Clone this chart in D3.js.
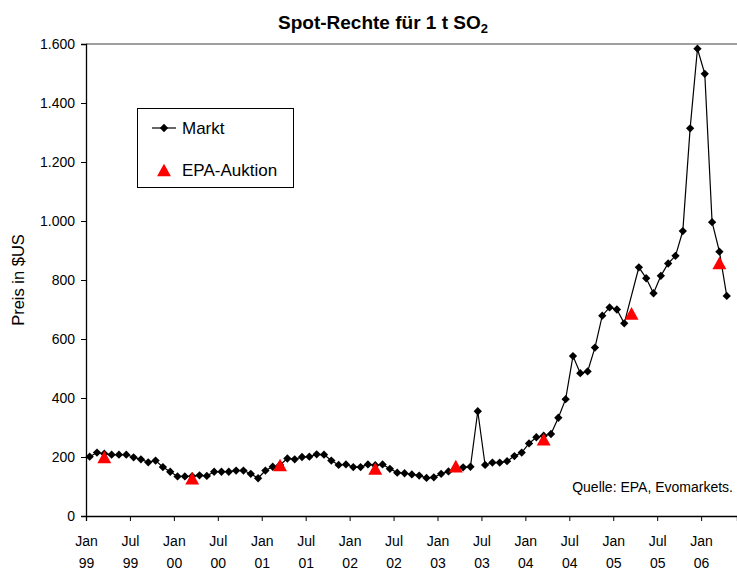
<!DOCTYPE html>
<html>
<head>
<meta charset="utf-8">
<script src="https://cdn.jsdelivr.net/npm/d3@7/dist/d3.min.js"></script>
<style>
  body { margin: 0; background: #fff; }
  svg { font-family: "Liberation Sans", Arial, sans-serif; }
</style>
</head>
<body>
<svg id="chart" width="737" height="571"></svg>
<script>
// Marktpreise, monatlich ab Jan 1999 (null = kein Wert)
var markt = [
  201, 215, 211, 208, 208, 208, 199, 192, 182, 188, 166, 150,   // 1999
  134, 134, 135, 138, 136, 150, 150, 150, 154, 154, 143, 128,   // 2000
  154, 167, 173, 195, 192, 200, 201, 209, 208, 188, 173, 175,   // 2001
  166, 166, 175, 172, 175, 160, 147, 145, 141, 137, 129, 131,   // 2002
  143, 151, 162, 165, 167, 355, 173, 181, 181, 186, 203, 215,   // 2003
  246, 267, 272, 278, 333, 396, 542, 484, 490, 571, 679, 707,   // 2004
  700, 653, null, 843, 806, 755, 814, 856, 882, 966, 1314, 1584, // 2005
  1499, 996, 896, 746                                           // 2006
];
// EPA-Auktionen: Monatsindex (0 = Jan 99) und Preis
var auktionMonat = [2, 14, 26, 39, 50, 62, 74, 86];
var auktionPreis = [200, 128, 173, 161, 169, 260, 687, 858];

var tickMonate = [0, 6, 12, 18, 24, 30, 36, 42, 48, 54, 60, 66, 72, 78, 84];
var tickLabels = [
  ["Jan", "99"], ["Jul", "99"], ["Jan", "00"], ["Jul", "00"], ["Jan", "01"],
  ["Jul", "01"], ["Jan", "02"], ["Jul", "02"], ["Jan", "03"], ["Jul", "03"],
  ["Jan", "04"], ["Jul", "04"], ["Jan", "05"], ["Jul", "05"], ["Jan", "06"]
];
var yTicks = [0, 200, 400, 600, 800, 1000, 1200, 1400, 1600];

var svg = d3.select('#chart');
// Plotbereich (nicht "top" nennen, window.top ist schreibgeschützt)
var plot = {left: 86, right: 737, top: 44, bottom: 516};

var x = d3.scaleLinear().domain([0, 88.9]).range([plot.left, plot.right]);
var y = d3.scaleLinear().domain([0, 1600]).range([plot.bottom, plot.top]);

var fmt = d3.formatLocale({decimal: ',', thousands: '.', grouping: [3], currency: ['', ' $']}).format(',d');

// Titel
var title = svg.append('text')
  .attr('x', 383).attr('y', 29)
  .attr('text-anchor', 'middle')
  .attr('font-size', 19).attr('font-weight', 'bold');
title.append('tspan').text('Spot-Rechte für 1 t SO');
title.append('tspan').attr('font-size', 13).attr('dy', 4).text('2');

// obere Rahmenlinie
svg.append('line')
  .attr('x1', plot.left).attr('x2', plot.right)
  .attr('y1', plot.top).attr('y2', plot.top)
  .attr('stroke', '#808080').attr('stroke-width', 1.5);

// Y-Achse
var yAxis = svg.append('g')
  .attr('transform', 'translate(' + plot.left + ',0)')
  .call(d3.axisLeft(y).tickValues(yTicks).tickSize(5).tickPadding(6).tickFormat(fmt));
yAxis.select('.domain').attr('stroke', '#000').attr('stroke-width', 1.3);
yAxis.selectAll('.tick line').attr('stroke', '#000');
yAxis.selectAll('.tick text').attr('font-size', 14).attr('fill', '#000')
  .attr('font-family', '"Liberation Sans", Arial, sans-serif');

// X-Achse
var xAxis = svg.append('g')
  .attr('transform', 'translate(0,' + plot.bottom + ')')
  .call(d3.axisBottom(x).tickValues(tickMonate).tickSize(5).tickFormat(''));
xAxis.select('.domain').attr('stroke', '#000').attr('stroke-width', 1.3);
xAxis.selectAll('.tick line').attr('stroke', '#000');
xAxis.selectAll('.tick').each(function(d, i) {
  var t = d3.select(this).append('text')
    .attr('text-anchor', 'middle')
    .attr('font-size', 14).attr('fill', '#000')
    .attr('font-family', '"Liberation Sans", Arial, sans-serif');
  t.append('tspan').attr('x', 0).attr('y', 30).text(tickLabels[i][0]);
  t.append('tspan').attr('x', 0).attr('y', 52).text(tickLabels[i][1]);
});

// Y-Achsentitel
svg.append('text')
  .attr('transform', 'translate(24,' + ((plot.top + plot.bottom) / 2) + ') rotate(-90)')
  .attr('text-anchor', 'middle')
  .attr('font-size', 16.5)
  .text('Preis in $US');

// Marktdaten
var marktPunkte = markt.map(function(v, i) { return {i: i, v: v}; })
  .filter(function(d) { return d.v !== null; });

var line = d3.line()
  .x(function(d) { return x(d.i + 0.5); })
  .y(function(d) { return y(d.v); });

svg.append('path')
  .datum(marktPunkte)
  .attr('d', line)
  .attr('fill', 'none')
  .attr('stroke', '#000')
  .attr('stroke-width', 1.2);

var diamond = d3.symbol().type(d3.symbolDiamond2).size(44);
// Dreieck wie in Excel: Bounding-Box zentriert
var excelTriangle = {
  draw: function(ctx, size) {
    var r = Math.sqrt(size) / 2;
    ctx.moveTo(0, -r);
    ctx.lineTo(r * 1.1, r);
    ctx.lineTo(-r * 1.1, r);
    ctx.closePath();
  }
};
var triangle = d3.symbol().type(excelTriangle).size(160);

svg.selectAll('.markt')
  .data(marktPunkte)
  .enter().append('path')
  .attr('class', 'markt')
  .attr('d', diamond)
  .attr('transform', function(d) { return 'translate(' + x(d.i + 0.5) + ',' + y(d.v) + ')'; })
  .attr('fill', '#000');

svg.selectAll('.auktion')
  .data(auktionMonat)
  .enter().append('path')
  .attr('class', 'auktion')
  .attr('d', triangle)
  .attr('transform', function(m, i) { return 'translate(' + x(m + 0.5) + ',' + y(auktionPreis[i]) + ')'; })
  .attr('fill', '#ff0000');

// Legende
var legend = svg.append('g');
legend.append('rect')
  .attr('x', 137.5).attr('y', 108.5).attr('width', 156).attr('height', 79)
  .attr('fill', '#fff').attr('stroke', '#000').attr('stroke-width', 1);
legend.append('line')
  .attr('x1', 152).attr('x2', 176).attr('y1', 128).attr('y2', 128)
  .attr('stroke', '#000').attr('stroke-width', 1.2);
legend.append('path').attr('d', diamond).attr('transform', 'translate(164,128)');
legend.append('text').attr('x', 182).attr('y', 134).attr('font-size', 17).text('Markt');
legend.append('path').attr('d', triangle).attr('fill', '#ff0000').attr('transform', 'translate(164,170)');
legend.append('text').attr('x', 182).attr('y', 176).attr('font-size', 17).text('EPA-Auktion');

// Quelle
svg.append('text')
  .attr('x', 733).attr('y', 492)
  .attr('text-anchor', 'end')
  .attr('font-size', 14)
  .text('Quelle: EPA, Evomarkets.');
</script>
</body>
</html>
